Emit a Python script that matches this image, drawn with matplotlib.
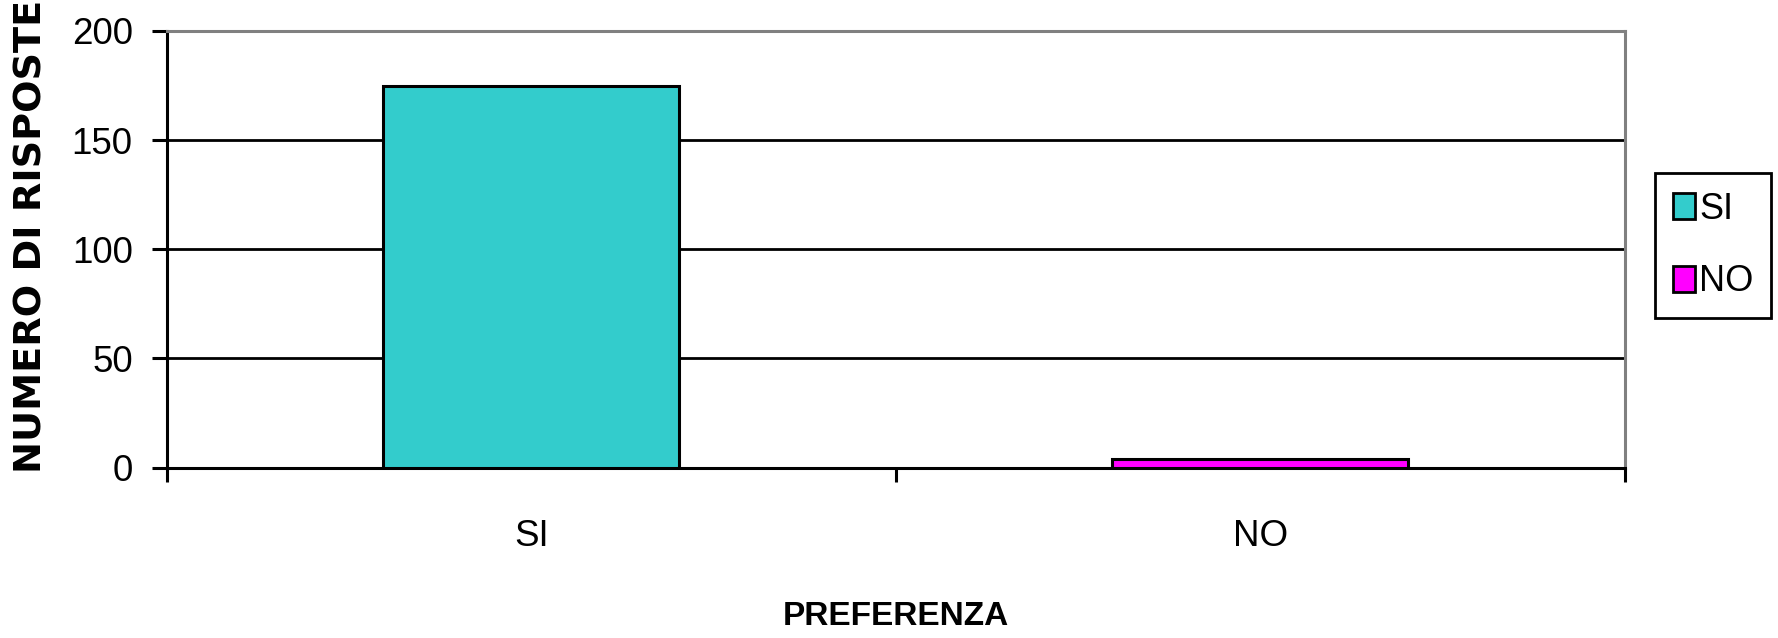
from __future__ import annotations

import matplotlib

matplotlib.use("Agg")
import matplotlib.pyplot as plt
from matplotlib.ticker import FixedLocator

CATEGORIES = ["SI", "NO"]
RESPONSES = [175, 4]
BAR_COLORS = ["#33CCCC", "#FF00FF"]
Y_TICKS = [0, 50, 100, 150, 200]
X_LABEL = "PREFERENZA"
Y_LABEL = "NUMERO DI RISPOSTE"

FIG_W, FIG_H, DPI = 1778, 638, 100
TICK_FONT = ["Liberation Sans", "DejaVu Sans"]


def px_x(x: float) -> float:
    return x / FIG_W


def px_y(y: float) -> float:
    # y measured from the top of the image
    return 1 - y / FIG_H


def main() -> int:
    fig = plt.figure(figsize=(FIG_W / DPI, FIG_H / DPI), dpi=DPI)
    left, right, top, bottom = 166.7, 1625, 31, 467.5
    ax = fig.add_axes([px_x(left), px_y(bottom), px_x(right - left), (bottom - top) / FIG_H])

    x = list(range(len(CATEGORIES)))
    bars = ax.bar(x, RESPONSES, width=0.406, color=BAR_COLORS, edgecolor="black",
                  linewidth=2.2, zorder=3)

    ax.set_xlim(-0.5, len(CATEGORIES) - 0.5)
    ax.set_ylim(0, 200)

    ax.set_yticks(Y_TICKS)
    ax.yaxis.grid(True, color="black", linewidth=2.0, zorder=1)
    ax.set_axisbelow(True)

    ax.set_xticks(x)
    ax.set_xticklabels(CATEGORIES)
    ax.xaxis.set_minor_locator(FixedLocator([i - 0.5 for i in range(len(CATEGORIES) + 1)]))
    ax.tick_params(axis="x", which="major", length=0, pad=37)
    ax.tick_params(axis="x", which="minor", length=10, width=2.2, direction="out", color="black")
    ax.tick_params(axis="y", length=10.5, width=2.2, direction="out", pad=14, color="black")

    for lab in ax.get_xticklabels() + ax.get_yticklabels():
        lab.set_fontfamily(TICK_FONT)
        lab.set_fontsize(26.5)

    for side in ("left", "bottom"):
        ax.spines[side].set_color("black")
        ax.spines[side].set_linewidth(2.2)
    for side in ("top", "right"):
        ax.spines[side].set_color("#808080")
        ax.spines[side].set_linewidth(2.2)

    ax.set_xlabel(X_LABEL, family=TICK_FONT, fontsize=24, fontweight="bold")
    ax.xaxis.set_label_coords(0.5, -0.306)

    fig.text(px_x(32), px_y(473), Y_LABEL, rotation=90, ha="center", va="bottom",
             family=["DejaVu Sans"], fontsize=27.5, fontweight="bold")

    leg = ax.legend(bars, CATEGORIES, loc="center left",
                    bbox_to_anchor=(px_x(1655), px_y(245.5)), bbox_transform=fig.transFigure,
                    borderaxespad=0, frameon=True, fancybox=False, framealpha=1,
                    prop={"family": TICK_FONT, "size": 26},
                    handlelength=0.6, handleheight=0.75, handletextpad=0.12,
                    borderpad=0.5, labelspacing=1.05)
    leg.get_frame().set_edgecolor("black")
    leg.get_frame().set_linewidth(2.0)
    for handle in leg.legend_handles:
        handle.set_linewidth(2.0)

    fig.savefig("out.png", dpi=DPI)
    plt.close(fig)
    return 0


if __name__ == "__main__":
    raise SystemExit(main())
